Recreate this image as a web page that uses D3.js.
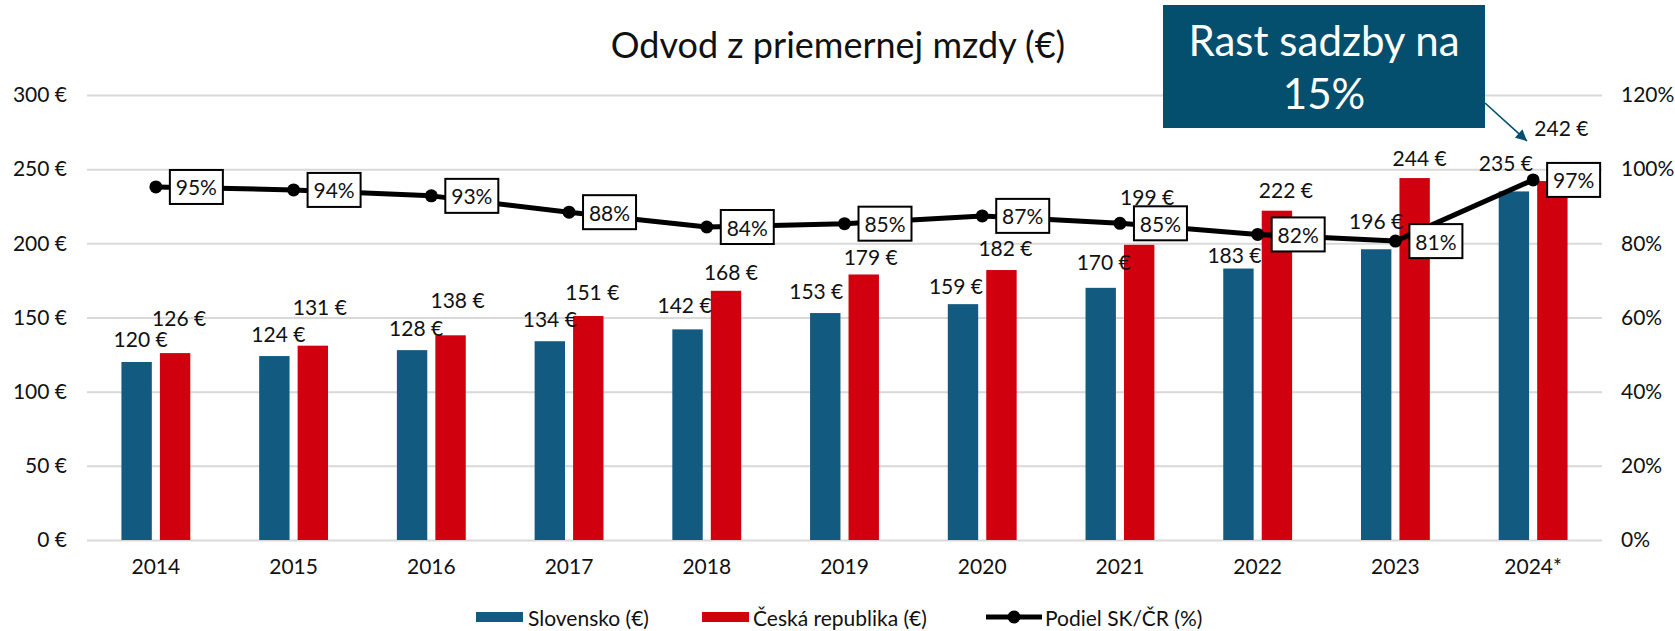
<!DOCTYPE html>
<html>
<head>
<meta charset="utf-8">
<script src="https://cdn.jsdelivr.net/npm/d3@7"></script>
<style>
  body { margin: 0; background: #fff; }
  svg { font-family: Lato, "Noto Sans", sans-serif; }
</style>
</head>
<body>
<div id="chart"></div>
<script>
// data
const years = ['2014', '2015', '2016', '2017', '2018', '2019', '2020', '2021', '2022', '2023', '2024*'];
const slovensko = [120, 124, 128, 134, 142, 153, 159, 170, 183, 196, 235];
const cesko = [126, 131, 138, 151, 168, 179, 182, 199, 222, 244, 242];
const podiel = [95.2, 94.4, 92.8, 88.4, 84.4, 85.3, 87.4, 85.4, 82.4, 80.6, 97.1];
const euroTicks = [0, 50, 100, 150, 200, 250, 300];
const pctTicks = [0, 20, 40, 60, 80, 100, 120];

// hand placed label nudges from the original [dx, lift above bar top]
const skNudge = [[4, 24], [4, 23], [4, 23], [0, 23], [-3, 25], [-9, 23], [-7, 19], [3, 26], [-4, 14], [0, 29], [-8, 29]];
const czNudge = [[4, 36], [7, 39], [7, 36], [4, 25], [5, 19], [7, 18], [4, 23], [8, 48], [9, 21], [5, 21], [9, 54]];

const W = 1675, H = 631;
const plotLeft = 87, plotRight = 1602, plotTop = 95, plotBottom = 540;

const svg = d3.select('#chart').append('svg')
    .attr('width', W)
    .attr('height', H);

const x = d3.scaleBand().domain(years).range([plotLeft, plotRight]).padding(0);
const xSub = d3.scaleBand().domain(['sk', 'cz'])
    .range([x.bandwidth() * 0.25, x.bandwidth() * 0.75])
    .paddingInner(0.21);
const y = d3.scaleLinear().domain([0, 300]).range([plotBottom, plotTop]);
const yR = d3.scaleLinear().domain([0, 120]).range([plotBottom, plotTop]);

const SK = '#135a80', CZ = '#d0000f', BOX = '#044f6d';

// gridlines
svg.append('g')
    .attr('transform', `translate(${plotLeft},0)`)
    .call(d3.axisLeft(y).tickValues(euroTicks).tickSize(-(plotRight - plotLeft)).tickFormat(''))
    .call(g => g.select('.domain').remove())
    .call(g => g.selectAll('line').attr('stroke', '#d9d9d9').attr('stroke-width', 2));

// left axis
svg.append('g')
    .attr('transform', 'translate(67,0)')
    .call(d3.axisLeft(y).tickValues(euroTicks).tickSize(0).tickPadding(0).tickFormat(d => d + ' €'))
    .call(g => g.select('.domain').remove())
    .call(g => g.selectAll('text').attr('font-size', 21).attr('fill', '#111'));

// right axis
svg.append('g')
    .attr('transform', 'translate(1621,0)')
    .call(d3.axisRight(yR).tickValues(pctTicks).tickSize(0).tickPadding(0).tickFormat(d => d + '%'))
    .call(g => g.select('.domain').remove())
    .call(g => g.selectAll('text').attr('font-size', 21).attr('fill', '#111'));

// bottom axis
svg.append('g')
    .attr('transform', `translate(0,${plotBottom})`)
    .call(d3.axisBottom(x).tickSize(0).tickPadding(19))
    .call(g => g.select('.domain').remove())
    .call(g => g.selectAll('text').attr('font-size', 21).attr('fill', '#111'));

svg.selectAll('.tick text').attr('font-family', 'Lato, "Noto Sans", sans-serif');

// bars
const groups = svg.append('g')
    .selectAll('g')
    .data(years)
    .enter()
    .append('g')
    .attr('transform', d => `translate(${x(d)},0)`);

groups.append('rect')
    .attr('x', xSub('sk'))
    .attr('width', xSub.bandwidth())
    .attr('y', (d, i) => y(slovensko[i]))
    .attr('height', (d, i) => plotBottom - y(slovensko[i]))
    .attr('fill', SK);

groups.append('rect')
    .attr('x', xSub('cz'))
    .attr('width', xSub.bandwidth())
    .attr('y', (d, i) => y(cesko[i]))
    .attr('height', (d, i) => plotBottom - y(cesko[i]))
    .attr('fill', CZ);

// bar labels
groups.append('text')
    .attr('x', (d, i) => xSub('sk') + xSub.bandwidth() / 2 + skNudge[i][0])
    .attr('y', (d, i) => y(slovensko[i]) - skNudge[i][1])
    .attr('text-anchor', 'middle')
    .attr('dominant-baseline', 'central')
    .attr('font-size', 21)
    .attr('fill', '#111')
    .text((d, i) => slovensko[i] + ' €');

groups.append('text')
    .attr('x', (d, i) => xSub('cz') + xSub.bandwidth() / 2 + czNudge[i][0])
    .attr('y', (d, i) => y(cesko[i]) - czNudge[i][1])
    .attr('text-anchor', 'middle')
    .attr('dominant-baseline', 'central')
    .attr('font-size', 21)
    .attr('fill', '#111')
    .text((d, i) => cesko[i] + ' €');

// share line
const cx = d => x(d) + x.bandwidth() / 2;
const line = d3.line()
    .x(d => cx(d))
    .y((d, i) => yR(podiel[i]));

svg.append('path')
    .datum(years)
    .attr('d', line)
    .attr('fill', 'none')
    .attr('stroke', '#000')
    .attr('stroke-width', 5)
    .attr('stroke-linejoin', 'round');

svg.append('g')
    .selectAll('circle')
    .data(years)
    .enter()
    .append('circle')
    .attr('cx', d => cx(d))
    .attr('cy', (d, i) => yR(podiel[i]))
    .attr('r', 6.5)
    .attr('fill', '#000');

const pctLabel = svg.append('g')
    .selectAll('g')
    .data(years)
    .enter()
    .append('g')
    .attr('transform', (d, i) => `translate(${cx(d) + 14},${yR(podiel[i])})`);

pctLabel.append('rect')
    .attr('x', 0)
    .attr('y', -17)
    .attr('width', 53)
    .attr('height', 34)
    .attr('fill', '#fff')
    .attr('stroke', '#000')
    .attr('stroke-width', 2);

pctLabel.append('text')
    .attr('x', 26.5)
    .attr('y', 0)
    .attr('text-anchor', 'middle')
    .attr('dominant-baseline', 'central')
    .attr('font-size', 21)
    .attr('fill', '#111')
    .text((d, i) => Math.round(podiel[i]) + '%');

// title
svg.append('text')
    .attr('x', 838)
    .attr('y', 58)
    .attr('text-anchor', 'middle')
    .attr('font-size', 36)
    .attr('fill', '#111')
    .text('Odvod z priemernej mzdy (€)');

// callout
svg.append('defs').append('marker')
    .attr('id', 'arrow')
    .attr('viewBox', '0 0 10 10')
    .attr('refX', 10)
    .attr('refY', 5)
    .attr('markerWidth', 9)
    .attr('markerHeight', 7)
    .attr('markerUnits', 'strokeWidth')
    .attr('orient', 'auto')
    .append('path')
    .attr('d', 'M0,0L10,5L0,10Z')
    .attr('fill', BOX);

svg.append('line')
    .attr('x1', 1485).attr('y1', 103)
    .attr('x2', 1527).attr('y2', 141)
    .attr('stroke', BOX)
    .attr('stroke-width', 1.6)
    .attr('marker-end', 'url(#arrow)');

svg.append('rect')
    .attr('x', 1163).attr('y', 5)
    .attr('width', 322).attr('height', 123)
    .attr('fill', BOX);

svg.append('text')
    .attr('x', 1324)
    .attr('text-anchor', 'middle')
    .attr('font-size', 42)
    .attr('fill', '#fff')
    .selectAll('tspan')
    .data(['Rast sadzby na', '15%'])
    .enter()
    .append('tspan')
    .attr('x', 1324)
    .attr('y', (d, i) => 56 + i * 53)
    .text(d => d);

// legend
const legend = svg.append('g').attr('font-size', 21).attr('fill', '#111');

legend.append('rect').attr('x', 476).attr('y', 612).attr('width', 47).attr('height', 10).attr('fill', SK);
legend.append('text').attr('x', 528).attr('y', 617).attr('dominant-baseline', 'central').text('Slovensko (€)');

legend.append('rect').attr('x', 702).attr('y', 612).attr('width', 47).attr('height', 10).attr('fill', CZ);
legend.append('text').attr('x', 753).attr('y', 617).attr('dominant-baseline', 'central').text('Česká republika (€)');

legend.append('line').attr('x1', 986).attr('x2', 1042).attr('y1', 617).attr('y2', 617)
    .attr('stroke', '#000').attr('stroke-width', 5);
legend.append('circle').attr('cx', 1014).attr('cy', 617).attr('r', 6.5).attr('fill', '#000');
legend.append('text').attr('x', 1045).attr('y', 617).attr('dominant-baseline', 'central').text('Podiel SK/ČR (%)');
</script>
</body>
</html>
